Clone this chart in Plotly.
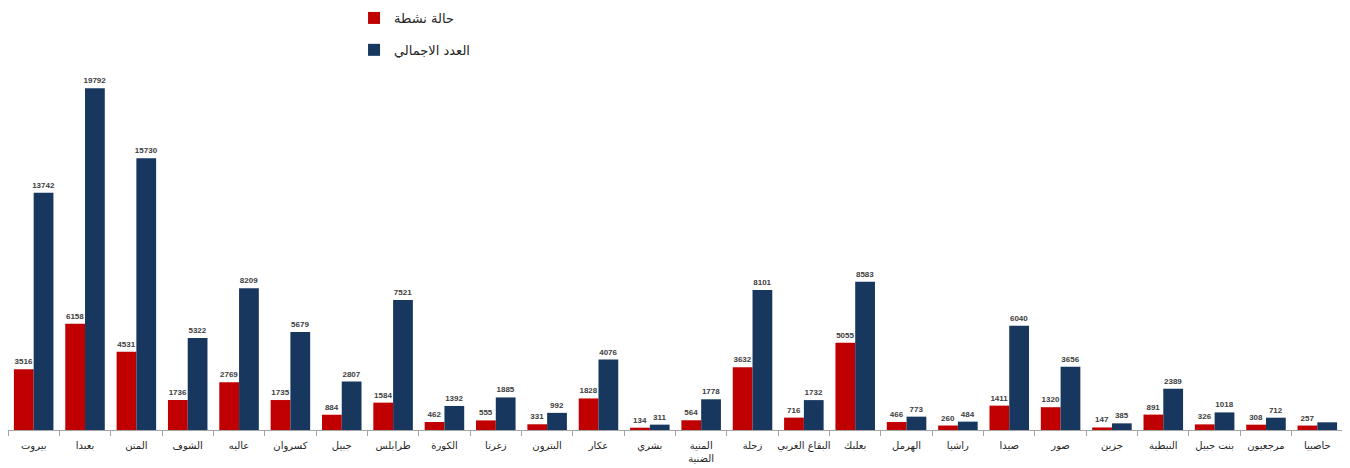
import plotly.graph_objects as go

categories = ["بيروت", "بعبدا", "المتن", "الشوف", "عاليه", "كسروان", "جبيل", "طرابلس",
              "الكورة", "زغرتا", "البترون", "عكار", "بشري", "المنية<br>الضنية", "زحلة",
              "البقاع الغربي", "بعلبك", "الهرمل", "راشيا", "صيدا", "صور", "جزين",
              "النبطية", "بنت جبيل", "مرجعيون", "حاصبيا"]

active_cases = [3516, 6158, 4531, 1736, 2769, 1735, 884, 1584, 462, 555, 331, 1828, 134,
                564, 3632, 716, 5055, 466, 260, 1411, 1320, 147, 891, 326, 308, 257]

total_cases = [13742, 19792, 15730, 5322, 8209, 5679, 2807, 7521, 1392, 1885, 992, 4076, 311,
               1778, 8101, 1732, 8583, 773, 484, 6040, 3656, 385, 2389, 1018, 712, 445]

# the last total bar has no printed label in the source
total_labels = [str(v) for v in total_cases[:-1]] + [""]
active_labels = [str(v) for v in active_cases]

name_active = "حالة نشطة"
name_total = "العدد الاجمالي"

RED = "#C00000"
BLUE = "#17375E"
LABEL_FONT = dict(family="Liberation Sans", size=8, color="#404040", weight="bold")

W, H = 1342, 460  # page body adds an 8px margin
Y_MAX = 24318
Y_TICK_STEP = 1291

fig = go.Figure()
fig.add_trace(go.Bar(
    x=categories, y=active_cases, name=name_active, legendgroup="a",
    marker=dict(color=RED, line=dict(width=0)),
    text=active_labels, textposition="outside", textfont=LABEL_FONT,
    constraintext="none", cliponaxis=False, hoverinfo="x+y",
))
fig.add_trace(go.Bar(
    x=categories, y=total_cases, name=name_total, legendgroup="b",
    marker=dict(color=BLUE, line=dict(width=0)),
    text=total_labels, textposition="outside", textfont=LABEL_FONT,
    constraintext="none", cliponaxis=False, hoverinfo="x+y",
))

fig.update_layout(
    width=W, height=H,
    margin=dict(l=0, r=7, t=2, b=38, autoexpand=False),
    paper_bgcolor="white", plot_bgcolor="white",
    barmode="group", bargap=0.23, bargroupgap=0,
    showlegend=True,
    legend=dict(
        x=0.2592, xanchor="left", y=1.0167, yanchor="top",
        traceorder="grouped", tracegroupgap=12,
        font=dict(family="DejaVu Sans", size=13, color="#262626"),
        bgcolor="rgba(0,0,0,0)", itemwidth=30,
    ),
    xaxis=dict(
        type="category", range=[-0.5, len(categories) - 0.5], autorange=False,
        automargin=False,
        showline=True, linecolor="#a6a6a6", linewidth=1,
        ticks="outside", tickson="boundaries", ticklen=5, tickcolor="#a6a6a6",
        tickangle=0, ticklabelstandoff=6,
        tickfont=dict(family="DejaVu Sans", size=10, color="#262626"),
        showgrid=False, zeroline=False,
    ),
    yaxis=dict(
        range=[0, Y_MAX], autorange=False, side="right", automargin=False,
        tickmode="linear", tick0=Y_MAX - 18 * Y_TICK_STEP, dtick=Y_TICK_STEP,
        showline=False, showgrid=False, zeroline=False,
        ticks="outside", ticklen=4, tickcolor="#9a9a9a", tickwidth=1,
        showticklabels=False,
    ),
    font=dict(family="DejaVu Sans"),
)

fig.write_html("out.html")
